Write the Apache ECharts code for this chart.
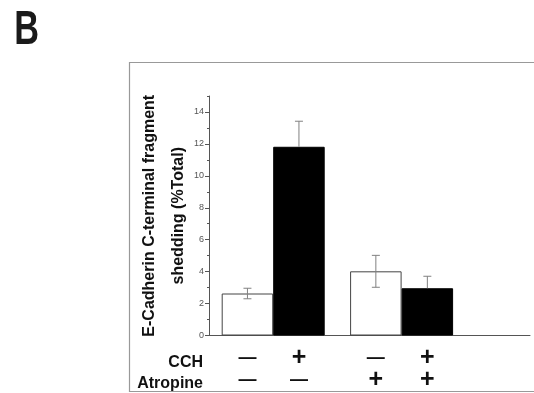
<!DOCTYPE html>
<html>
<head>
<meta charset="utf-8">
<script src="https://cdn.jsdelivr.net/npm/echarts@6/dist/echarts.min.js"></script>
<style>
html,body{margin:0;padding:0;background:#fff;}
#c{width:534px;height:393px;}
</style>
</head>
<body>
<div id="c"></div>
<script>
// ---- data ----
const groupPositions = [0, 1];
const cchSigns = ['—', '+', '—', '+'];
const atropineSigns = ['—', '—', '+', '+'];
const rowNames = ['CCH', 'Atropine'];
const whiteValues = [2.63, 4.02];
const whiteErrors = [0.33, 1.0];
const blackValues = [11.82, 2.96];
const blackErrors = [1.6, 0.75];
const yLabelTicks = [0, 2, 4, 6, 8, 10, 12, 14];
const yTitle = 'E-Cadherin C-terminal fragment\nshedding (%Total)';
const panelLetter = 'B';

// ---- build ----
const BAR_W = 51.5;
const FONT = 'Liberation Sans, Arial, sans-serif';

function errRender(offset, showLower) {
  return function (params, api) {
    const x = api.value(0), v = api.value(1), e = api.value(2);
    const top = api.coord([x, v + e]);
    const mid = api.coord([x, v]);
    const bot = api.coord([x, v - e]);
    const cx = top[0] + offset;
    const hw = 4;
    const st = { stroke: '#808080', lineWidth: 1 };
    const children = [
      { type: 'line', shape: { x1: cx, y1: showLower ? bot[1] : mid[1], x2: cx, y2: top[1] }, style: st },
      { type: 'line', shape: { x1: cx - hw, y1: top[1], x2: cx + hw, y2: top[1] }, style: st }
    ];
    if (showLower) {
      children.push({ type: 'line', shape: { x1: cx - hw, y1: bot[1], x2: cx + hw, y2: bot[1] }, style: st });
    }
    return { type: 'group', children: children };
  };
}

function sym(s) { return s === '+' ? '{p|+}' : '{m|—}'; }

const chart = echarts.init(document.getElementById('c'), null, { renderer: 'canvas' });

const option = {
  animation: false,
  backgroundColor: '#fff',
  textStyle: { fontFamily: FONT },
  grid: { left: 209, right: 4, top: 96, bottom: 55, containLabel: false },
  xAxis: {
    type: 'value',
    min: -0.5,
    max: 2.0,
    splitLine: { show: false },
    axisLine: { show: true, onZero: false, lineStyle: { color: '#555', width: 1 } },
    axisTick: { show: false },
    axisLabel: {
      customValues: groupPositions,
      margin: 12,
      formatter: function (v) {
        const i = groupPositions.indexOf(v);
        if (i < 0) return '';
        return sym(cchSigns[2 * i]) + sym(cchSigns[2 * i + 1]) + '\n' +
               sym(atropineSigns[2 * i]) + sym(atropineSigns[2 * i + 1]);
      },
      rich: {
        m: { width: BAR_W, align: 'center', fontSize: 18, fontWeight: 'bold', color: '#111', lineHeight: 22, fontFamily: FONT },
        p: { width: BAR_W, align: 'center', fontSize: 25, fontWeight: 'bold', color: '#111', lineHeight: 22, fontFamily: FONT }
      }
    }
  },
  yAxis: [{
    type: 'value',
    min: 0,
    max: 15,
    interval: 2,
    name: yTitle,
    nameLocation: 'middle',
    nameRotate: 90,
    nameGap: 16,
    nameMoveOverlap: false,
    nameTextStyle: { fontSize: 16, fontWeight: 'bold', color: '#111', lineHeight: 29, fontFamily: FONT },
    splitLine: { show: false },
    axisLine: { show: true, onZero: false, lineStyle: { color: '#555', width: 1 } },
    axisTick: { show: true, customValues: yLabelTicks, length: 4, inside: false, lineStyle: { color: '#555' } },
    axisLabel: { customValues: yLabelTicks, fontSize: 9, color: '#555', margin: 5,
      formatter: function (v) { return yLabelTicks.indexOf(v) >= 0 ? String(v) : ''; } }
  }, {
    type: 'value',
    min: 0,
    max: 15,
    interval: 1,
    position: 'left',
    offset: 0,
    splitLine: { show: false },
    axisLine: { show: false, onZero: false },
    axisTick: { show: true, length: 2, lineStyle: { color: '#555' } },
    axisLabel: { show: false }
  }],
  series: [
    {
      type: 'bar',
      yAxisIndex: 0,
      barWidth: BAR_W,
      barGap: '0%',
      data: groupPositions.map((x, i) => [x, whiteValues[i]]),
      itemStyle: { color: '#fff', borderColor: '#444', borderWidth: 1 }
    },
    {
      type: 'bar',
      yAxisIndex: 0,
      barWidth: BAR_W,
      barGap: '0%',
      data: groupPositions.map((x, i) => [x, blackValues[i]]),
      itemStyle: { color: '#000', borderColor: '#000', borderWidth: 1 }
    },
    {
      type: 'custom',
      yAxisIndex: 0,
      renderItem: errRender(-BAR_W / 2, true),
      data: groupPositions.map((x, i) => [x, whiteValues[i], whiteErrors[i]]),
      z: 5
    },
    {
      type: 'custom',
      yAxisIndex: 0,
      renderItem: errRender(BAR_W / 2, false),
      data: groupPositions.map((x, i) => [x, blackValues[i], blackErrors[i]]),
      z: 5
    }
  ],
  graphic: [
    { type: 'rect', silent: true, z: -1,
      shape: { x: 129.5, y: 62.5, width: 420, height: 329 },
      style: { fill: 'none', stroke: '#999', lineWidth: 1.2 } },
    { type: 'text', x: 11, y: 30, scaleX: 0.7, originX: 11, originY: 30,
      style: { text: panelLetter, font: 'bold 49px ' + FONT, fill: '#1a1a1a', textAlign: 'left', textVerticalAlign: 'middle' } },
    { type: 'text', x: 203, y: 363,
      style: { text: rowNames[0], font: 'bold 16px ' + FONT, fill: '#111', textAlign: 'right', textVerticalAlign: 'middle' } },
    { type: 'text', x: 203, y: 384,
      style: { text: rowNames[1], font: 'bold 16px ' + FONT, fill: '#111', textAlign: 'right', textVerticalAlign: 'middle' } }
  ]
};
chart.setOption(option);
</script>
</body>
</html>
